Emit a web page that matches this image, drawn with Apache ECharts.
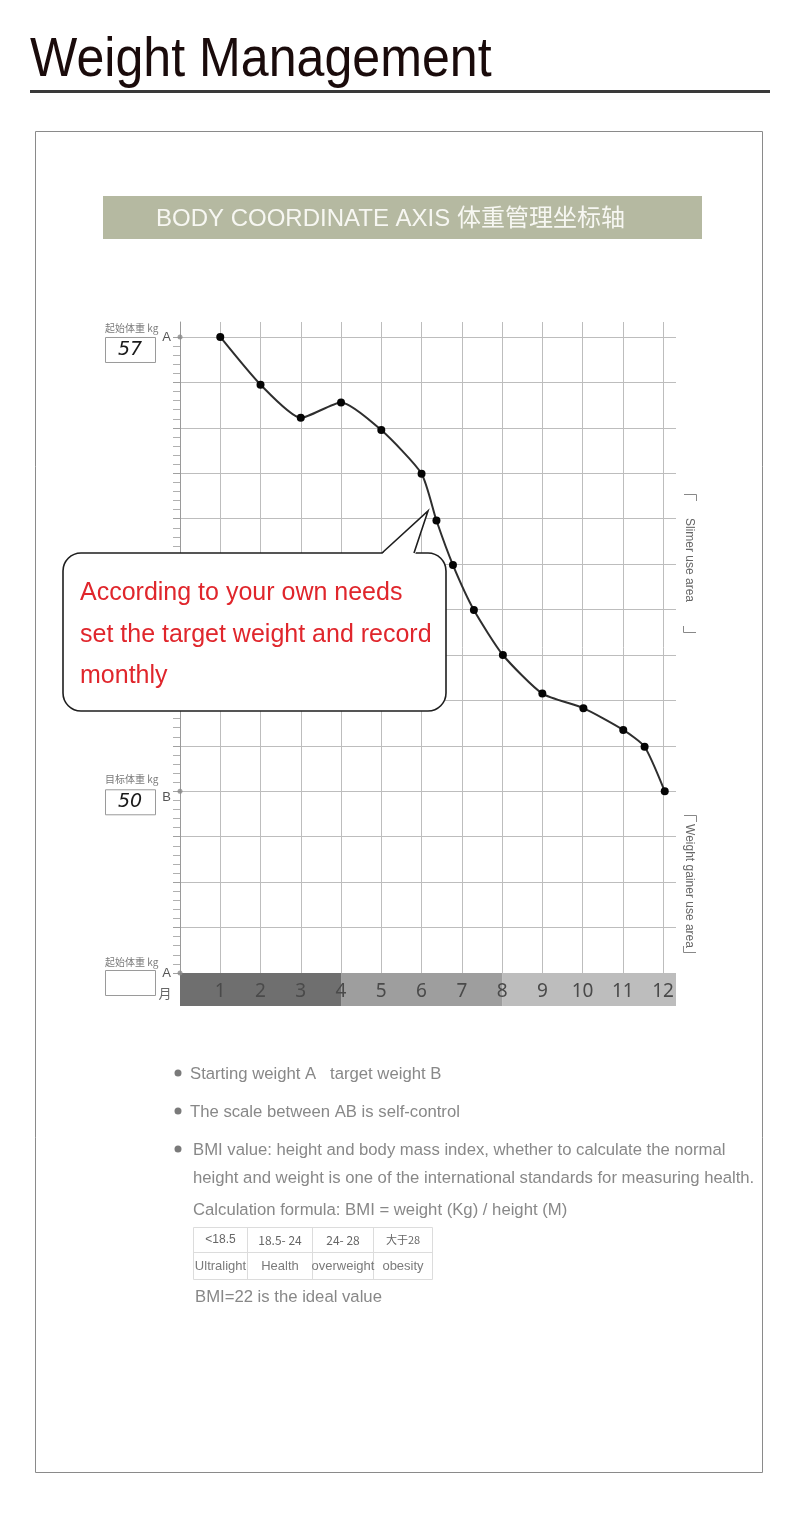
<!DOCTYPE html>
<html><head><meta charset="utf-8">
<script src="https://cdn.jsdelivr.net/npm/echarts@6/dist/echarts.min.js"></script>
<style>html,body{margin:0;padding:0;background:#fff}#c{width:800px;height:1526px}</style>
</head><body><div id="c"></div>
<script>
// ---------- data ----------
const months = [1, 2, 3, 4, 5, 6, 6.37, 6.78, 7.3, 8.02, 9, 10.02, 11.01, 11.54, 12.04];
const scaleUnits = [14, 12.95, 12.22, 12.56, 11.95, 10.99, 9.96, 8.98, 7.99, 7.0, 6.15, 5.83, 5.35, 4.98, 4.0];
const monthLabels = [1, 2, 3, 4, 5, 6, 7, 8, 9, 10, 11, 12];
const levelStartA = 14;   // starting weight A
const levelTargetB = 4;   // target weight B
const levelBottomA = 0;   // bottom A
const startWeightText = '57';
const targetWeightText = '50';
const bandStarts = [0, 4, 8];
const bandEnds = [4, 8, 12.32];
const bullets = ['Starting weight A   target weight B', 'The scale between AB is self-control',
  'BMI value: height and body mass index, whether to calculate the normal'];
const bulletCont = ['height and weight is one of the international standards for measuring health.',
  'Calculation formula: BMI = weight (Kg) / height (M)'];
const bmiRanges = ['<18.5', '18.5- 24', '24- 28', '大于28'];
const bmiClasses = ['Ultralight', 'Health', 'overweight', 'obesity'];
const calloutLines = ['According to your own needs', 'set the target weight and record', 'monthly'];

// ---------- layout ----------
const X_MAX = 12.32, Y_MAX = 14.33;
const GL = 180, GW = 496, GT = 322, GB = 973;
const GH = GB - GT;
const tickTop = GT + (Y_MAX - 14) / Y_MAX * GH;
const FONT = "'Liberation Sans', Arial, 'Noto Sans CJK SC', sans-serif";
const CJK = "'Noto Sans CJK SC', 'Liberation Sans', sans-serif";
const bandColors = ['#6f6f6f', '#9e9e9e', '#bdbdbd'];

const chart = echarts.init(document.getElementById('c'));
const option = {
  backgroundColor: '#fff',
  animation: false,
  grid: [
    { left: GL, top: GT, width: GW, height: GH },
    { left: GL, top: tickTop, width: GW, height: GB - tickTop },
    { left: GL, top: GB, width: GW, height: 33 }
  ],
  xAxis: [
    { gridIndex: 0, type: 'value', min: 0, max: X_MAX, interval: 1,
      axisLine: { show: false }, axisTick: { show: false }, axisLabel: { show: false },
      splitLine: { show: true, showMinLine: false, showMaxLine: false, lineStyle: { color: '#bdbdbd', width: 1 } } },
    { gridIndex: 1, type: 'value', min: 0, max: 12, show: false },
    { gridIndex: 2, type: 'value', min: 0, max: X_MAX, interval: 1, position: 'top', z: 10,
      axisLine: { show: false }, axisTick: { show: false }, splitLine: { show: false },
      axisLabel: { inside: true, margin: 9, fontSize: 19, lineHeight: 20, color: '#4a4a4a', fontFamily: "'Noto Sans', sans-serif",
        formatter: v => monthLabels.indexOf(v) >= 0 ? String(v) : '' } }
  ],
  yAxis: [
    { gridIndex: 0, type: 'value', min: 0, max: Y_MAX, interval: 1,
      axisLine: { show: true, lineStyle: { color: '#9a9a9a', width: 1 } }, axisTick: { show: false }, axisLabel: { show: false },
      splitLine: { show: true, showMinLine: false, showMaxLine: false, lineStyle: { color: '#bdbdbd', width: 1 } } },
    { gridIndex: 1, type: 'value', min: 0, max: 14, interval: 1,
      axisLine: { show: false },
      axisTick: { show: true, length: 7, lineStyle: { color: '#a0a0a0' } },
      minorTick: { show: true, splitNumber: 5, length: 7, lineStyle: { color: '#b0b0b0' } },
      splitLine: { show: false },
      axisLabel: { margin: 9, fontSize: 13, color: '#555', fontFamily: FONT,
        formatter: v => v === levelStartA || v === levelBottomA ? 'A' : (v === levelTargetB ? '{b|B}' : ''),
        rich: { b: { fontSize: 13, color: '#555', padding: [13, 0, 0, 0], fontFamily: FONT } } } },
    { gridIndex: 2, type: 'value', min: 0, max: 1, show: false }
  ],
  series: [
    { type: 'line', xAxisIndex: 0, yAxisIndex: 0, z: 5,
      data: months.map((m, i) => [m, scaleUnits[i]]),
      smooth: 0.2, symbol: 'circle', symbolSize: 8,
      lineStyle: { color: '#2e2e2e', width: 2 }, itemStyle: { color: '#050505' } },
    { type: 'scatter', xAxisIndex: 1, yAxisIndex: 1, z: 4, symbolSize: 5,
      itemStyle: { color: '#8a8a8a' },
      data: [[0, levelStartA], [0, levelTargetB], [0, levelBottomA]] },
    { type: 'line', xAxisIndex: 2, yAxisIndex: 2, data: [[0, 0]], symbol: 'none', lineStyle: { opacity: 0 },
      markArea: { silent: true, label: { show: false },
        data: bandStarts.map((s, i) => [{ xAxis: s, itemStyle: { color: bandColors[i] } }, { xAxis: bandEnds[i] }]) } }
  ]
};
chart.setOption(option);

const yA = chart.convertToPixel({ gridIndex: 1 }, [0, levelStartA])[1];
const yB = chart.convertToPixel({ gridIndex: 1 }, [0, levelTargetB])[1];
const yA0 = chart.convertToPixel({ gridIndex: 1 }, [0, levelBottomA])[1];

const g = [];
function txt(text, x, y, o) {
  g.push(Object.assign({ type: 'text', x: x, y: y, z: 50,
    style: Object.assign({ text: text, fill: '#888', fontSize: 16.7, fontFamily: FONT, align: 'left', verticalAlign: 'middle' }, o || {}) }));
}
function rect(x, y, w, h, style, extra) {
  g.push(Object.assign({ type: 'rect', z: 40, shape: { x: x, y: y, width: w, height: h }, style: style }, extra || {}));
}
function pline(points, stroke, lw, z) {
  g.push({ type: 'polyline', z: z || 50, shape: { points: points }, style: { stroke: stroke, lineWidth: lw || 1, fill: null } });
}

// title
g.push({ type: 'text', x: 30, y: 61, scaleX: 0.895, z: 50,
  style: { text: 'Weight Management', fontSize: 56, fontFamily: FONT, fill: '#1a0b0b', verticalAlign: 'middle' } });
rect(30, 90, 740, 3, { fill: '#3a3a3a' });
// frame
rect(35.5, 131.5, 727, 1341, { fill: null, stroke: '#8a8a8a', lineWidth: 1 }, { z: 1 });
// banner
rect(103, 196, 599, 43, { fill: '#b5b9a1' });
txt('BODY COORDINATE AXIS 体重管理坐标轴', 156, 219, { fill: '#f7f7f2', fontSize: 24, fontFamily: "'Liberation Sans', 'Noto Sans CJK SC', sans-serif" });

// left annotations
txt('起始体重 kg', 105, yA - 9, { fontSize: 10, fill: '#7a7a7a', fontFamily: CJK });
rect(105.5, yA + 0.5, 50, 25, { fill: '#fff', stroke: '#9a9a9a', lineWidth: 1 });
txt(startWeightText, 130, yA + 13, { fontSize: 19, fill: '#1a1a1a', align: 'center', fontStyle: 'italic', fontFamily: "'DejaVu Sans', sans-serif" });
txt('目标体重 kg', 105, yB - 12, { fontSize: 10, fill: '#7a7a7a', fontFamily: CJK });
rect(105.5, yB - 1.5, 50, 25, { fill: '#fff', stroke: '#9a9a9a', lineWidth: 1 });
txt(targetWeightText, 130, yB + 11, { fontSize: 19, fill: '#1a1a1a', align: 'center', fontStyle: 'italic', fontFamily: "'DejaVu Sans', sans-serif" });
txt('起始体重 kg', 105, yA0 - 11, { fontSize: 10, fill: '#7a7a7a', fontFamily: CJK });
rect(105.5, yA0 - 2.5, 50, 25, { fill: '#fff', stroke: '#9a9a9a', lineWidth: 1 });
txt('月', 165, yA0 + 20, { fontSize: 13, fill: '#666', align: 'center', fontFamily: CJK });

// right side labels
g.push({ type: 'text', x: 689, y: 560, rotation: -Math.PI / 2, z: 50,
  style: { text: 'Slimer use area', fontSize: 12, fill: '#666', fontFamily: FONT, align: 'center', verticalAlign: 'middle' } });
g.push({ type: 'text', x: 689, y: 886, rotation: -Math.PI / 2, z: 50,
  style: { text: 'Weight gainer use area', fontSize: 12, fill: '#666', fontFamily: FONT, align: 'center', verticalAlign: 'middle' } });
pline([[684, 494.5], [696.5, 494.5], [696.5, 501]], '#888', 1);
pline([[683.5, 626], [683.5, 632.5], [696, 632.5]], '#888', 1);
pline([[684, 815.5], [696.5, 815.5], [696.5, 822]], '#888', 1);
pline([[683.5, 946], [683.5, 952.5], [696, 952.5]], '#888', 1);

// callout
rect(63, 553, 383, 158, { fill: '#fff', stroke: '#1e1e1e', lineWidth: 1.6 }, { z: 90, shape: { x: 63, y: 553, width: 383, height: 158, r: 18 } });
g.push({ type: 'polygon', z: 91, shape: { points: [[381, 555], [428, 511], [415, 555]] }, style: { fill: '#fff' } });
pline([[382, 553], [428, 511], [414, 553]], '#1e1e1e', 1.6, 92);
calloutLines.forEach((t, i) => txt(t, 80, 593 + i * 41.8, { fill: '#e0262c', fontSize: 25 }));
g.forEach(e => { if (e.type === 'text' && e.style.fill === '#e0262c') e.z = 95; });

// bullets
const by = [1074, 1112, 1150];
bullets.forEach((t, i) => {
  g.push({ type: 'circle', z: 50, shape: { cx: 178, cy: by[i] - 1, r: 3.5 }, style: { fill: '#7a7a7a' } });
  txt(t, i === 2 ? 193 : 190, by[i]);
});
txt(bulletCont[0], 193, 1178);
txt(bulletCont[1], 193, 1210);

// BMI table
const cx = [193.5, 247.5, 312.5, 373.5, 432.5];
rect(193.5, 1227.5, 239, 52, { fill: null, stroke: '#dcdcdc', lineWidth: 1 });
pline([[193.5, 1252.5], [432.5, 1252.5]], '#dcdcdc', 1);
[1, 2, 3].forEach(i => pline([[cx[i], 1227.5], [cx[i], 1279.5]], '#dcdcdc', 1));
bmiRanges.forEach((t, i) => txt(t, (cx[i] + cx[i + 1]) / 2, 1240,
  { align: 'center', fontSize: i === 3 ? 11 : 12, fill: '#666', fontFamily: i === 0 ? FONT : CJK }));
bmiClasses.forEach((t, i) => txt(t, (cx[i] + cx[i + 1]) / 2, 1266, { align: 'center', fontSize: 13, fill: '#7a7a7a' }));
txt('BMI=22 is the ideal value', 195, 1297);

chart.setOption({ graphic: { elements: g } });
</script></body></html>
